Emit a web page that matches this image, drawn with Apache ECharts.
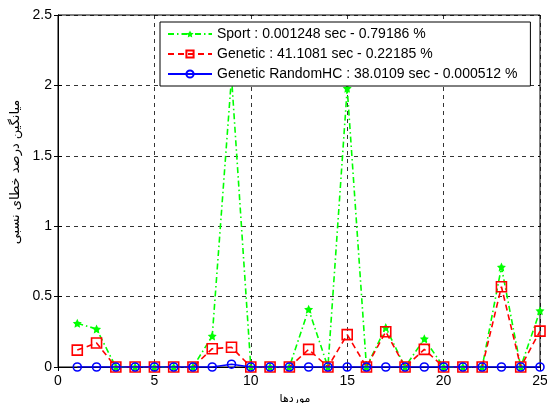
<!DOCTYPE html>
<html>
<head>
<meta charset="utf-8">
<script src="https://cdn.jsdelivr.net/npm/echarts@6/dist/echarts.min.js"></script>
<style>
  html, body { margin: 0; padding: 0; background: #fff; }
  #chart { width: 547px; height: 403px; }
</style>
</head>
<body>
<div id="chart"></div>
<script>
// Test cases 1..25
const cases = [1,2,3,4,5,6,7,8,9,10,11,12,13,14,15,16,17,18,19,20,21,22,23,24,25];

// Mean relative error (%) per case for each method
const sportValues = [0.31,0.27,0,0,0,0,0,0.22,2.06,0,0,0,0.41,0,1.98,0,0.28,0,0.20,0,0,0,0.71,0,0.40];
const geneticValues = [0.12,0.17,0,0,0,0,0,0.13,0.14,0,0,0,0.125,0,0.23,0,0.25,0,0.125,0,0,0,0.57,0,0.255];
const randomHCValues = [0,0,0,0,0,0,0,0,0.02,0,0,0,0,0,0,0,0,0,0,0,0,0,0,0,0];

const seriesNames = [
  'Sport : 0.001248 sec - 0.79186 %',
  'Genetic : 41.1081 sec - 0.22185 %',
  'Genetic RandomHC : 38.0109 sec - 0.000512 %'
];

const xTicks = { min: 0, max: 25, interval: 5 };
const yTicks = { min: 0, max: 2.5, interval: 0.5 };

const xLabel = 'موردها';
const yLabel = 'میانگین درصد خطای نسبی';

const pairs = vals => cases.map((c, i) => [c, vals[i]]);

const FONT = 'Liberation Sans, Arial, sans-serif';
const STAR = 'path://M0,-10 L2.9,-4 9.5,-3.1 4.7,1.5 5.9,8.1 0,5 -5.9,8.1 -4.7,1.5 -9.5,-3.1 -2.9,-4Z';

const chart = echarts.init(document.getElementById('chart'), null, { renderer: 'canvas' });

const gridLine = { show: true, lineStyle: { color: '#000', type: [4, 4], width: 0.8 } };
const axisLineStyle = { show: true, lineStyle: { color: '#000', width: 1 } };
const innerTick = { show: true, inside: true, length: 4, lineStyle: { color: '#000' } };

chart.setOption({
  animation: false,
  backgroundColor: '#fff',
  grid: {
    left: 58, right: 7, top: 15, bottom: 36,
    outerBoundsMode: 'none', containLabel: false,
    show: true, borderColor: '#000', borderWidth: 1
  },
  legend: {
    orient: 'vertical',
    left: 160,
    top: 22,
    padding: [5, 13, 5, 7],
    itemGap: 6,
    itemWidth: 44,
    itemHeight: 9,
    backgroundColor: '#fff',
    borderColor: '#000',
    borderWidth: 1,
    textStyle: { fontFamily: FONT, fontSize: 14, color: '#000' },
    data: seriesNames
  },
  xAxis: [{
    type: 'value', ...xTicks,
    axisLine: axisLineStyle,
    axisTick: innerTick,
    axisLabel: { fontFamily: FONT, fontSize: 14, color: '#000', margin: 7 },
    splitLine: gridLine,
    name: xLabel, nameLocation: 'middle', nameGap: 27,
    nameTextStyle: { fontFamily: 'DejaVu Sans, sans-serif', fontSize: 11, color: '#000', padding: [0, 8, 0, 0] }
  }, {
    type: 'value', ...xTicks, position: 'top',
    axisLine: axisLineStyle,
    axisTick: innerTick,
    axisLabel: { show: false }, splitLine: { show: false }
  }],
  yAxis: [{
    type: 'value', ...yTicks,
    axisLine: axisLineStyle,
    axisTick: innerTick,
    axisLabel: { fontFamily: FONT, fontSize: 14, color: '#000', margin: 6 },
    splitLine: gridLine,
    name: yLabel, nameLocation: 'middle', nameGap: 33, nameRotate: 90,
    nameTextStyle: { fontFamily: 'DejaVu Sans, sans-serif', fontSize: 13, color: '#000', padding: [0, 0, 0, 38] }
  }, {
    type: 'value', ...yTicks, position: 'right',
    axisLine: axisLineStyle,
    axisTick: innerTick,
    axisLabel: { show: false }, splitLine: { show: false }
  }],
  series: [{
    name: seriesNames[0], type: 'line', data: pairs(sportValues), z: 2,
    symbol: STAR, symbolSize: 9, showAllSymbol: true,
    lineStyle: { color: '#00ff00', width: 1.6, type: [6, 3, 1.5, 3] },
    itemStyle: { color: '#00ff00' }
  }, {
    name: seriesNames[1], type: 'line', data: pairs(geneticValues), z: 3,
    symbol: 'rect', symbolSize: 10, showAllSymbol: true,
    lineStyle: { color: '#ff0000', width: 1.6, type: [6, 4] },
    itemStyle: { color: 'rgba(255,255,255,0)', borderColor: '#ff0000', borderWidth: 1.6 }
  }, {
    name: seriesNames[2], type: 'line', data: pairs(randomHCValues), z: 4,
    symbol: 'circle', symbolSize: 8, showAllSymbol: true,
    lineStyle: { color: '#0000ff', width: 1.6 },
    itemStyle: { color: 'rgba(255,255,255,0)', borderColor: '#0000ff', borderWidth: 1.6 }
  }]
});
</script>
</body>
</html>
